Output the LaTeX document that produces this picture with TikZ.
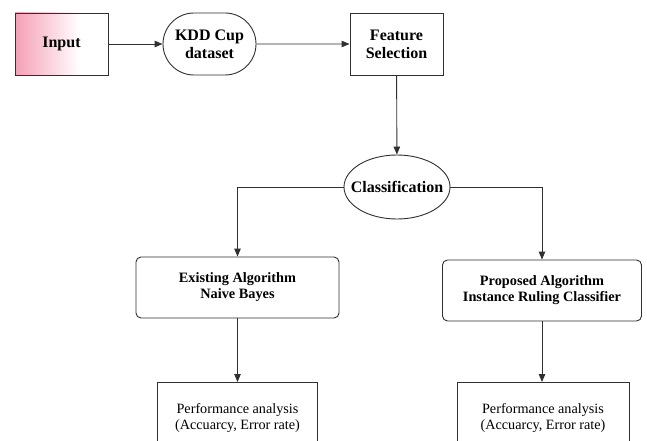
\documentclass[tikz,border=0pt]{standalone}
\usepackage{fontspec}
\setmainfont{Liberation Serif}
\usetikzlibrary{arrows.meta,shapes.geometric,shapes.misc}
\definecolor{linec}{HTML}{303030}
\definecolor{pinkc}{HTML}{F4A0B6}
\begin{document}
\begin{tikzpicture}[x=1pt,y=-1pt,
  every node/.style={font=\bfseries\fontsize{16}{18}\selectfont, align=center, text=black},
  box/.style={draw=linec, line width=0.9pt, minimum width=93pt, minimum height=62pt, inner sep=0pt},
  algbox/.style={draw=linec, line width=0.9pt, rounded corners=5pt, minimum height=61pt, inner sep=0pt, font=\bfseries\fontsize{14.3}{16}\selectfont},
  perfbox/.style={draw=linec, line width=0.9pt, minimum height=100pt, inner sep=0pt, anchor=north},
  perftext/.style={font=\fontsize{14.2}{15.5}\selectfont, inner sep=0pt},
  conn/.style={draw=linec, line width=0.9pt, -{Triangle[length=8pt,width=6.5pt]}},
  link/.style={draw=linec, line width=0.9pt}]
\useasboundingbox (0,0) rectangle (647,441);
\clip (0,0) rectangle (647,441);
\fill[white] (0,0) rectangle (647,441);
% Input box with gradient
\shade[left color=pinkc, right color=white] (15,13) rectangle (80,75);
\node[box] (input) at (61.5,44) {Input};
\node[box, rounded rectangle] (kdd) at (209.5,44) {KDD Cup\\dataset};
\node[box] (feat) at (396.5,44) {Feature\\Selection};
\node[draw=linec, line width=0.9pt, ellipse, minimum width=106pt, minimum height=64pt, inner sep=0pt] (cls) at (397,187) {\makebox[40pt]{Classification}};
\node[algbox, minimum width=203pt] (alg1) at (237.5,287.5) {Existing Algorithm\\Naive Bayes};
\node[algbox, minimum width=199pt] (alg2) at (542,290.5) {Proposed Algorithm\\Instance Ruling Classifier};
\node[perfbox, minimum width=160pt] (p1) at (237.5,382) {};
\node[perfbox, minimum width=172pt] (p2) at (543,382) {};
\node[perftext] (p1t) at (237.5,418) {Performance analysis\\(Accuarcy, Error rate)};
\node[perftext] (p2t) at (543,418) {Performance analysis\\(Accuarcy, Error rate)};
\draw[conn] (input) -- (kdd);
\draw[conn] (kdd) -- (feat);
\draw[conn] (feat) -- (cls);
\draw[conn] (cls.west) -| (alg1.north);
\draw[conn] (cls.east) -| (alg2.north);
\draw[conn] (alg1) -- (p1);
\draw[conn] (alg2.south) -- (alg2.south |- p2.north);
\end{tikzpicture}
\end{document}
